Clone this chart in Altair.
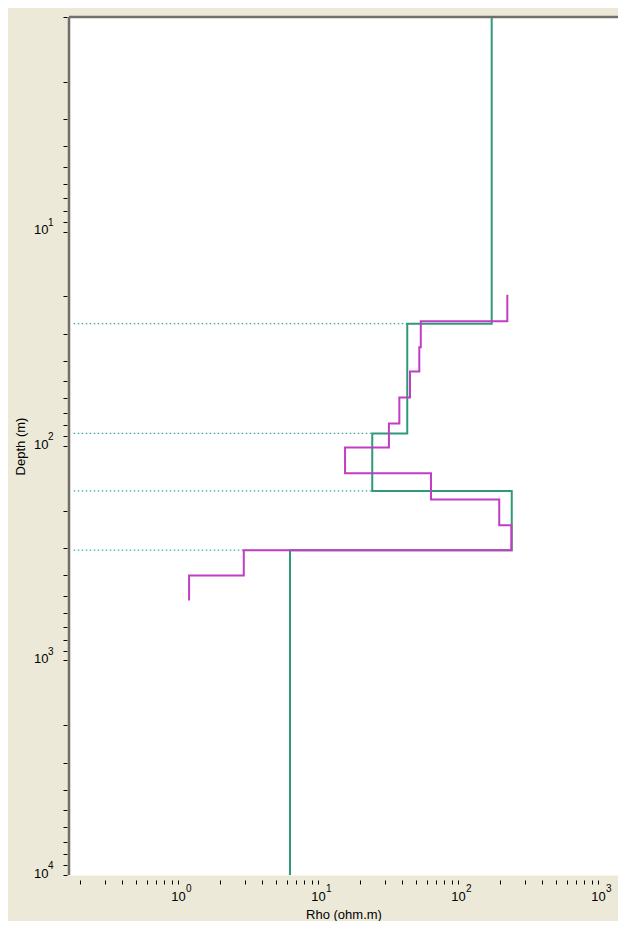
import altair as alt
import pandas as pd

# ---- data ----
# blocky (layered) model, green: resistivity of each layer and layer boundaries (m)
green_rho = [174, 43.4, 24.4, 242, 6.31]
green_bounds = [26.9, 87.4, 162, 306]
# smooth model, magenta: layer boundaries (m) and resistivities
mag_depths = [19.7, 26.2, 34.6, 44.9, 59.4, 78.5, 101.5, 134, 177.4, 234, 306, 402, 525]
mag_rho = [225, 54.2, 52.9, 45.4, 38.1, 32.1, 15.6, 64.1, 197, 240.4, 2.95, 1.20]

x_ticks = [0.2, 0.3, 0.4, 0.5, 0.6, 0.7, 0.8, 0.9,
           1, 2, 3, 4, 5, 6, 7, 8, 9,
           10, 20, 30, 40, 50, 60, 70, 80, 90,
           100, 200, 300, 400, 500, 600, 700, 800, 900, 1000]
y_ticks = [1, 2, 3, 4, 5, 6, 7, 8, 9,
           10, 20, 30, 40, 50, 60, 70, 80, 90,
           100, 200, 300, 400, 500, 600, 700, 800, 900,
           1000, 2000, 3000, 4000, 5000, 6000, 7000, 8000, 9000, 10000]
x_major = [1, 10, 100, 1000]
x_exp = ["0", "1", "2", "3"]
y_major = [10, 100, 1000, 10000]
y_exp = ["1", "2", "3", "4"]
x_domain = [0.1665, 1389]
y_domain = [1, 10000]
dot_start = 0.18

# ---- build step-line tables ----
rows = []
tops = [y_domain[0]] + green_bounds
bots = green_bounds + [y_domain[1]]
i = 0
for r, t, b in zip(green_rho, tops, bots):
    rows.append({"rho": r, "depth": t, "i": i}); i += 1
    rows.append({"rho": r, "depth": b, "i": i}); i += 1
green_df = pd.DataFrame(rows)

rows = []
i = 0
for r, t, b in zip(mag_rho, mag_depths[:-1], mag_depths[1:]):
    rows.append({"rho": r, "depth": t, "i": i}); i += 1
    rows.append({"rho": r, "depth": b, "i": i}); i += 1
mag_df = pd.DataFrame(rows)

dot_df = pd.DataFrame({
    "x0": [dot_start] * len(green_bounds),
    "x1": [min(green_rho[k], green_rho[k + 1]) for k in range(len(green_bounds))],
    "depth": green_bounds,
})
xexp_df = pd.DataFrame({"rho": x_major, "e": x_exp})
yexp_df = pd.DataFrame({"depth": y_major, "e": y_exp})

W, H = 549, 858
FONT = "Liberation Sans"

xaxis = alt.Axis(values=x_ticks,
                 labelExpr="datum.value == 1 || datum.value == 10 || datum.value == 100 || datum.value == 1000 ? '10' : ''",
                 orient="bottom", offset=5, domain=False, grid=False,
                 tickSize=4, tickColor="#000000", tickWidth=1,
                 labelPadding=6, labelFont=FONT, labelFontSize=13, labelColor="#000000",
                 labelOverlap=False, labelFlush=False, labelBound=False,
                 title="Rho (ohm.m)", titleFont=FONT, titleFontSize=13,
                 titleFontWeight="normal", titleColor="#000000",
                 titleY=38, titleBaseline="alphabetic")
yaxis = alt.Axis(values=y_ticks,
                 labelExpr="datum.value == 10 || datum.value == 100 || datum.value == 1000 || datum.value == 10000 ? '10' : ''",
                 orient="left", offset=2, domain=False, grid=False,
                 tickSize=4, tickColor="#000000", tickWidth=1,
                 labelPadding=15, labelFont=FONT, labelFontSize=13, labelColor="#000000",
                 labelOverlap=False, labelFlush=False, labelBound=False, labelOffset=-2,
                 title="Depth (m)", titleFont=FONT, titleFontSize=13,
                 titleFontWeight="normal", titleColor="#000000",
                 titleX=-47, titleBaseline="middle")

xs = alt.Scale(type="log", domain=x_domain, nice=False)
ys = alt.Scale(type="log", domain=y_domain, reverse=True, nice=False)

dots = alt.Chart(dot_df).mark_rule(color="#3FA3A3", strokeWidth=1.3, strokeDash=[1.5, 2.5]).encode(
    x=alt.X("x0:Q", scale=xs, axis=xaxis),
    x2="x1:Q",
    y=alt.Y("depth:Q", scale=ys, axis=yaxis),
)

mag = alt.Chart(mag_df).mark_line(color="#C13DC3", strokeWidth=2, clip=True).encode(
    x=alt.X("rho:Q", scale=xs, axis=xaxis),
    y=alt.Y("depth:Q", scale=ys, axis=yaxis),
    order="i:Q",
)

green = alt.Chart(green_df).mark_line(color="#2F9A78", strokeWidth=2, clip=True).encode(
    x=alt.X("rho:Q", scale=xs, axis=xaxis),
    y=alt.Y("depth:Q", scale=ys, axis=yaxis),
    order="i:Q",
)

# exponents of the power-of-ten tick labels
xexp = alt.Chart(xexp_df).mark_text(font=FONT, fontSize=10, color="#000000", align="left",
                                    baseline="middle", dx=8).encode(
    x=alt.X("rho:Q", scale=xs, axis=xaxis),
    y=alt.value(H + 14),
    text="e:N",
)
yexp = alt.Chart(yexp_df).mark_text(font=FONT, fontSize=10, color="#000000", align="left",
                                    baseline="middle", dy=-9).encode(
    x=alt.value(-21),
    y=alt.Y("depth:Q", scale=ys, axis=yaxis),
    text="e:N",
)

frame_df = pd.DataFrame({"a": [0]})
left_edge = alt.Chart(frame_df).mark_rule(color="#707068", strokeWidth=2.5).encode(
    x=alt.value(0), y=alt.value(0), y2=alt.value(H))
top_edge = alt.Chart(frame_df).mark_rule(color="#707068", strokeWidth=2.5).encode(
    x=alt.value(0), x2=alt.value(W), y=alt.value(0))

chart = alt.layer(dots, green, mag, xexp, yexp, left_edge, top_edge).properties(
    width=W, height=H,
    autosize=alt.AutoSizeParams(type="none"),
    padding={"left": 61, "top": 9, "right": 0, "bottom": 46},
    background="#ECE9D8",
).configure_view(fill="white", stroke="transparent")

chart.save("out.html", embed_options={"renderer": "svg", "actions": False})
